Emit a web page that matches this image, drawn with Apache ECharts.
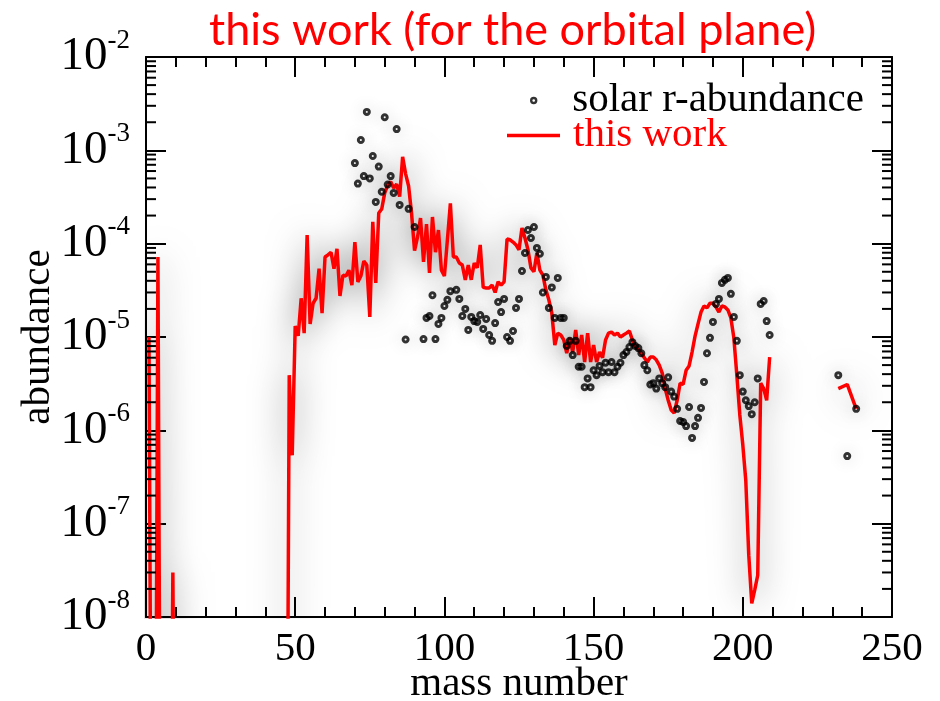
<!DOCTYPE html>
<html>
<head>
<meta charset="utf-8">
<script src="https://cdn.jsdelivr.net/npm/echarts@6/dist/echarts.min.js"></script>
<style>
  html, body { margin: 0; padding: 0; background: #fff; }
  #chart { width: 940px; height: 701px; }
</style>
</head>
<body>
<div id="chart"></div>
<script>
// axis ranges / tick labels
const xTicks = [0, 50, 100, 150, 200, 250];
const yExponents = [-8, -7, -6, -5, -4, -3, -2];

// solar r-process abundances (mass number, abundance)
const solarMass = [
  70, 71, 72, 73, 74, 75, 76, 77, 78, 79, 80, 81, 82, 83, 84, 85, 87, 88, 90,
  93, 94, 95, 96, 97, 98, 99, 100, 101, 102, 104, 105, 106, 107, 108, 109, 110,
  111, 112, 113, 114, 115, 116, 117, 118, 119, 120, 121, 122, 123, 124, 125,
  126, 127, 128, 129, 130, 131, 132, 133, 134, 135, 136, 137, 138, 139, 140,
  141, 142, 143, 144, 145, 146, 147, 148, 149, 150, 151, 152, 153, 154, 155,
  156, 157, 158, 159, 160, 161, 162, 163, 164, 165, 166, 167, 168, 169, 170,
  171, 172, 173, 174, 175, 176, 177, 178, 179, 180, 181, 182, 183, 184, 185,
  186, 187, 188, 189, 190, 191, 192, 193, 194, 195, 196, 197, 198, 199, 200,
  201, 202, 203, 204, 205, 206, 207, 208, 209, 232, 235, 238
];
const solarAbund = [
  7.3e-4, 4.4e-4, 1.29e-3, 5.3e-4, 2.58e-3, 5.0e-4, 8.7e-4, 2.8e-4, 6.7e-4, 3.6e-4,
  2.26e-3, 4.3e-4, 5.3e-4, 3.5e-4, 1.69e-3, 2.6e-4, 9.4e-6, 2.36e-4, 1.51e-4,
  9.5e-6, 1.6e-5, 1.68e-5, 2.8e-5, 9.5e-6, 1.38e-5, 1.6e-5, 2.15e-5, 2.5e-5, 3.1e-5,
  3.2e-5, 2.56e-5, 1.68e-5, 2.0e-5, 1.19e-5, 1.64e-5, 1.48e-5,
  1.45e-5, 1.72e-5, 1.22e-5, 1.56e-5, 1.05e-5, 9.1e-6, 1.41e-5, 2.37e-5, 1.85e-5,
  2.56e-5, 1.0e-5, 9.1e-6, 1.16e-5, 2.05e-5, 2.56e-5,
  5.1e-5, 7.95e-5, 1.4e-4, 1.15e-4, 1.51e-4, 9.0e-5, 7.8e-5, 3.0e-5, 4.4e-5,
  2.05e-5, 3.4e-5, 1.6e-5, 4.3e-5, 1.6e-5, 1.6e-5,
  8.0e-6, 9.1e-6, 6.4e-6, 9.1e-6, 4.8e-6, 4.8e-6, 2.9e-6, 3.6e-6, 2.9e-6, 4.4e-6,
  3.9e-6, 4.9e-6, 4.2e-6, 5.3e-6, 4.2e-6,
  5.4e-6, 4.2e-6, 4.8e-6, 5.3e-6, 6.4e-6, 6.9e-6, 7.8e-6, 8.8e-6, 8.0e-6, 7.6e-6,
  6.7e-6, 5.0e-6, 4.4e-6, 3.1e-6, 3.2e-6,
  2.8e-6, 3.6e-6, 3.2e-6, 2.9e-6, 3.7e-6, 2.6e-6, 2.3e-6, 1.7e-6, 1.26e-6, 1.23e-6,
  1.11e-6, 1.78e-6, 8.3e-7, 1.11e-6, 1.36e-6,
  1.74e-6, 3.3e-6, 6.7e-6, 9.8e-6, 1.45e-5, 2.26e-5, 2.56e-5, 3.8e-5, 4.1e-5, 4.3e-5,
  2.9e-5, 1.64e-5, 9.1e-6, 3.9e-6, 2.6e-6,
  2.1e-6, 1.82e-6, 1.49e-6, 2.0e-6, 3.6e-6, 2.26e-5, 2.43e-5, 1.48e-5, 1.05e-5,
  3.9e-6, 5.3e-7, 1.7e-6
];

// calculated abundances, "this work" (null = no value, gap in the curve)
const modelMass = [
  1, 2, 3, 4, 5, 8, 9, 10, 47,
  48, 49, 50, 51, 52, 53, 54, 55, 56, 57, 58, 59, 60, 61, 62, 63, 64, 65, 66, 67,
  68, 69, 70, 71, 72, 73, 74, 75, 76, 77, 78, 79, 80, 81, 82, 83, 84, 85, 86, 87,
  88, 89, 90, 91, 92, 93, 94, 95, 96, 97, 98, 99, 100, 101, 102, 103, 104, 105,
  106, 107, 108, 109, 110, 111, 112, 113, 114, 115, 116, 117, 118, 119, 120, 121,
  122, 123, 124, 125, 126, 127, 128, 129, 130, 131, 132, 133, 134, 135, 136, 137,
  138, 139, 140, 141, 142, 143, 144, 145, 146, 147, 148, 149, 150, 151, 152, 153,
  154, 155, 156, 157, 158, 159, 160, 161, 162, 163, 164, 165, 166, 167, 168, 169,
  170, 171, 172, 173, 174, 175, 176, 177, 178, 179, 180, 181, 182, 183, 184, 185,
  186, 187, 188, 189, 190, 191, 192, 193, 194, 195, 196, 197, 198, 199, 200, 201,
  202, 203, 204, 205, 206, 207, 208, 209, 220, 232, 235, 238
];
const modelAbund = [
  1.0e-5, 1e-12, 1e-12, 7.2e-5, 1e-12, 1e-12, 3.0e-8, 1e-12, 1e-12,
  3.9e-6, 5.4e-7, 1.31e-5, 1.03e-5, 2.6e-5, 1.1e-5, 1.24e-4, 1.38e-5, 2.3e-5, 2.6e-5,
  5.4e-5, 1.8e-5, 7.2e-5, 7.6e-5, 8.1e-5, 5.4e-5, 8.8e-5, 2.75e-5, 4.6e-5, 4.5e-5,
  5.2e-5, 3.6e-5, 1.04e-4, 3.9e-5, 4.5e-5, 6.5e-5, 5.9e-5, 1.64e-5, 1.71e-4, 3.8e-5,
  2.13e-4, 2.35e-4, 3.5e-4, 4.25e-4, 4.6e-4, 3.95e-4, 4.35e-4, 3.2e-4, 8.5e-4, 5.6e-4,
  4.15e-4, 2.1e-4, 8.4e-5, 1.18e-4, 1.88e-4, 6.4e-5, 1.62e-4, 4.85e-5, 1.93e-4, 8.1e-5,
  1.4e-4, 5.2e-5, 4.5e-5, 1.1e-4, 2.7e-4, 7.2e-5, 7.2e-5, 6.2e-5,
  5.9e-5, 4.1e-5, 5.9e-5, 4.1e-5, 6.2e-5, 5.5e-5, 9.7e-5, 3.4e-5, 3.35e-5, 3.35e-5,
  3.6e-5, 3.0e-5, 3.9e-5, 3.6e-5, 3.9e-5, 1.12e-4,
  1.1e-4, 1.04e-4, 9.7e-5, 8.6e-5, 1.47e-4, 1.15e-4, 8.6e-5, 5.5e-5, 5.0e-5, 8.0e-5,
  5.2e-5, 4.6e-5, 3.2e-5, 2.5e-5, 1.8e-5, 8.2e-6,
  1.1e-5, 1.05e-5, 9.3e-6, 6.7e-6, 9.8e-6, 6.9e-6, 1.19e-5, 6.4e-6, 1.05e-5, 5.4e-6,
  1.1e-5, 5.4e-6, 8.2e-6, 5.4e-6, 6.9e-6, 6.0e-6,
  9.3e-6, 1.1e-5, 1.13e-5, 1.05e-5, 1.1e-5, 1.0e-5, 1.05e-5, 1.1e-5, 1.16e-5, 9.3e-6,
  8.0e-6, 7.3e-6, 6.7e-6, 6.0e-6, 5.4e-6, 6.1e-6,
  6.1e-6, 5.7e-6, 5.0e-6, 4.1e-6, 2.8e-6, 2.1e-6, 1.65e-6, 1.53e-6, 2.1e-6, 3.2e-6,
  3.1e-6, 4.4e-6, 4.9e-6, 6.9e-6, 1.02e-5, 1.38e-5,
  1.85e-5, 2.15e-5, 2.05e-5, 2.3e-5, 2.3e-5, 2.1e-5, 1.85e-5, 2.15e-5, 2.1e-5, 1.95e-5,
  1.6e-5, 9.8e-6, 3.9e-6, 1.46e-6, 7.0e-7, 2.9e-7,
  4.6e-8, 1.4e-8, 1.95e-8, 2.8e-8, 3.2e-6, 2.8e-6, 2.1e-6, 6.1e-6, null, 2.8e-6, 3.1e-6, 1.7e-6
];

const SERIF = 'Liberation Serif';
const yMin = Math.pow(10, yExponents[0]);
const yMax = Math.pow(10, yExponents[yExponents.length - 1]);

const solarData = solarMass.map((a, i) => [a, solarAbund[i]]);
const modelData = modelMass.map((a, i) => [a, modelAbund[i] === null ? '-' : modelAbund[i]]);

// logarithmic minor ticks (2..9 within each decade)
const minorTickData = [];
for (let k = 0; k < yExponents.length - 1; k++) {
  for (let m = 2; m <= 9; m++) minorTickData.push([xTicks[0], m * Math.pow(10, yExponents[k])]);
}

const tickLine = { color: '#000', width: 2 };

const xAxisBase = {
  type: 'value',
  min: xTicks[0],
  max: xTicks[xTicks.length - 1],
  interval: xTicks[1] - xTicks[0],
  axisLine: { show: true, onZero: false, lineStyle: tickLine },
  axisTick: { show: true, inside: true, length: 20, lineStyle: tickLine },
  minorTick: { show: true, splitNumber: 5, length: 10, lineStyle: tickLine },
  splitLine: { show: false },
  minorSplitLine: { show: false }
};

const yAxisBase = {
  type: 'log',
  logBase: 10,
  min: yMin,
  max: yMax,
  splitNumber: 6,
  axisLine: { show: true, onZero: false, lineStyle: tickLine },
  axisTick: { show: true, inside: true, length: 20, lineStyle: tickLine },
  splitLine: { show: false }
};

const chart = echarts.init(document.getElementById('chart'), null, { renderer: 'canvas' });

chart.setOption({
  backgroundColor: '#fff',
  animation: false,
  title: {
    text: 'this work (for the orbital plane)',
    left: 204,
    top: 3,
    textStyle: { color: '#ff0000', fontFamily: 'Lato', fontSize: 45, fontWeight: 'normal' }
  },
  legend: [
    {
      data: [{ name: 'solar r-abundance', icon: 'circle' }],
      left: 525, top: 75,
      itemWidth: 5, itemHeight: 5,
      selectedMode: false,
      itemStyle: { color: 'rgba(0,0,0,0)', borderColor: '#000', borderWidth: 2.4 },
      textStyle: { fontFamily: SERIF, fontSize: 41, lineHeight: 41, color: '#000', padding: [0, 0, 0, 31] }
    },
    {
      data: [{ name: 'this work', icon: 'rect' }],
      left: 502, top: 110,
      itemWidth: 53, itemHeight: 3.5,
      selectedMode: false,
      itemStyle: { color: '#ff0000' },
      textStyle: { fontFamily: SERIF, fontSize: 41, lineHeight: 41, color: '#ff0000', padding: [0, 0, 0, 8] }
    }
  ],
  grid: { left: 146, right: 48, top: 57, bottom: 84, containLabel: false, outerBoundsMode: 'none' },
  xAxis: [
    Object.assign({}, xAxisBase, {
      position: 'bottom',
      name: 'mass number',
      nameLocation: 'middle',
      nameGap: 47,
      nameMoveOverlap: false,
      nameTextStyle: { fontFamily: SERIF, fontSize: 41, color: '#000' },
      axisLabel: { show: true, margin: 12, fontFamily: SERIF, fontSize: 41, color: '#000' }
    }),
    Object.assign({}, xAxisBase, { position: 'top', axisLabel: { show: false } })
  ],
  yAxis: [
    Object.assign({}, yAxisBase, {
      position: 'left',
      name: 'abundance',
      nameLocation: 'middle',
      nameGap: 87,
      nameMoveOverlap: false,
      nameTextStyle: { fontFamily: SERIF, fontSize: 41, color: '#000' },
      axisLabel: {
        show: true,
        margin: 16,
        formatter: v => '{b|10}{s|' + Math.round(Math.log10(v)) + '}',
        rich: {
          b: { fontFamily: SERIF, fontSize: 47, lineHeight: 60, color: '#000' },
          s: { fontFamily: SERIF, fontSize: 27, lineHeight: 28, verticalAlign: 'top', color: '#000' }
        }
      }
    }),
    Object.assign({}, yAxisBase, { position: 'right', axisLabel: { show: false } })
  ],
  series: [
    {
      name: 'this work',
      type: 'line',
      data: modelData,
      symbol: 'none',
      connectNulls: false,
      clip: true,
      lineStyle: { color: '#ff0000', width: 3.5, shadowBlur: 34, shadowColor: 'rgba(0,0,0,0.55)' },
      itemStyle: { color: '#ff0000' },
      z: 3
    },
    {
      name: 'solar r-abundance',
      type: 'scatter',
      data: solarData,
      symbol: 'circle',
      symbolSize: 5,
      itemStyle: {
        color: 'rgba(0,0,0,0)',
        borderColor: '#000',
        borderWidth: 3,
        shadowBlur: 16,
        shadowColor: 'rgba(0,0,0,0.3)'
      },
      z: 4
    },
    {
      name: 'minor ticks',
      type: 'custom',
      silent: true,
      clip: false,
      data: minorTickData,
      z: 5,
      renderItem: (params, api) => {
        const v = api.value(1);
        const pl = api.coord([xTicks[0], v]);
        const pr = api.coord([xTicks[xTicks.length - 1], v]);
        const st = { stroke: '#000', lineWidth: 2 };
        return {
          type: 'group',
          children: [
            { type: 'line', shape: { x1: pl[0], y1: pl[1], x2: pl[0] + 10, y2: pl[1] }, style: st },
            { type: 'line', shape: { x1: pr[0] - 10, y1: pr[1], x2: pr[0], y2: pr[1] }, style: st }
          ]
        };
      }
    }
  ]
});
</script>
</body>
</html>
